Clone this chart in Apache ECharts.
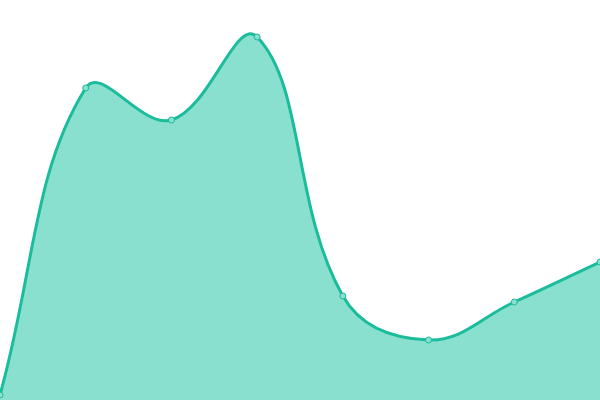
<!DOCTYPE html>
<html><head><meta charset="utf-8">
<script src="https://cdn.jsdelivr.net/npm/echarts@6/dist/echarts.min.js"></script>
<style>html,body{margin:0;padding:0;background:#fff}#c{width:600px;height:400px}</style>
</head><body><div id="c"></div>
<script>
const categories = ['A','B','C','D','E','F','G','H'];
const values = [5, 312, 280, 363, 104, 60, 98, 138];
const yMin = 0, yMax = 400;
const tension = 0.4;

const chart = echarts.init(document.getElementById('c'));

function renderCurve(params, api) {
  if (params.dataIndex !== 0) return null;
  const pts = values.map((v, i) => api.coord([i, v]));
  const base = api.coord([0, yMin])[1];
  const cs = params.coordSys;
  const clampX = x => Math.min(Math.max(x, cs.x), cs.x + cs.width);
  const clampY = y => Math.min(Math.max(y, cs.y), cs.y + cs.height);
  const cps = pts.map((p, i) => {
    const prev = pts[i - 1] || p, next = pts[i + 1] || p;
    const d01 = Math.hypot(p[0] - prev[0], p[1] - prev[1]);
    const d12 = Math.hypot(next[0] - p[0], next[1] - p[1]);
    let s01 = d01 / (d01 + d12), s12 = d12 / (d01 + d12);
    if (!isFinite(s01)) s01 = 0;
    if (!isFinite(s12)) s12 = 0;
    const fa = tension * s01, fb = tension * s12;
    return {
      prev: [clampX(p[0] - fa * (next[0] - prev[0])), clampY(p[1] - fa * (next[1] - prev[1]))],
      next: [clampX(p[0] + fb * (next[0] - prev[0])), clampY(p[1] + fb * (next[1] - prev[1]))]
    };
  });
  let d = 'M' + pts[0][0] + ' ' + pts[0][1];
  for (let i = 1; i < pts.length; i++) {
    const a = cps[i - 1].next, b = cps[i].prev, p = pts[i];
    d += ' C' + a[0] + ' ' + a[1] + ' ' + b[0] + ' ' + b[1] + ' ' + p[0] + ' ' + p[1];
  }
  const last = pts[pts.length - 1];
  const area = d + ' L' + last[0] + ' ' + base + ' L' + pts[0][0] + ' ' + base + ' Z';
  return {
    type: 'group',
    children: [
      {type: 'path', shape: {pathData: area}, style: {fill: '#8ae0cf', stroke: null}},
      {type: 'path', shape: {pathData: d}, style: {fill: null, stroke: '#1abc9c', lineWidth: 3}}
    ]
  };
}

chart.setOption({
  animation: false,
  grid: {left: 0, right: 0, top: 0, bottom: 0},
  xAxis: {type: 'category', data: categories, boundaryGap: false, show: false},
  yAxis: {type: 'value', min: yMin, max: yMax, show: false},
  series: [
    {
      type: 'custom',
      data: values.map((v, i) => [i, v]),
      renderItem: renderCurve,
      clip: true,
      silent: true
    },
    {
      type: 'scatter',
      data: values.map((v, i) => [i, v]),
      symbol: 'circle',
      symbolSize: 6,
      z: 5,
      itemStyle: {color: '#8ae0cf', borderColor: '#1abc9c', borderWidth: 1, opacity: 1}
    }
  ]
});
</script></body></html>
